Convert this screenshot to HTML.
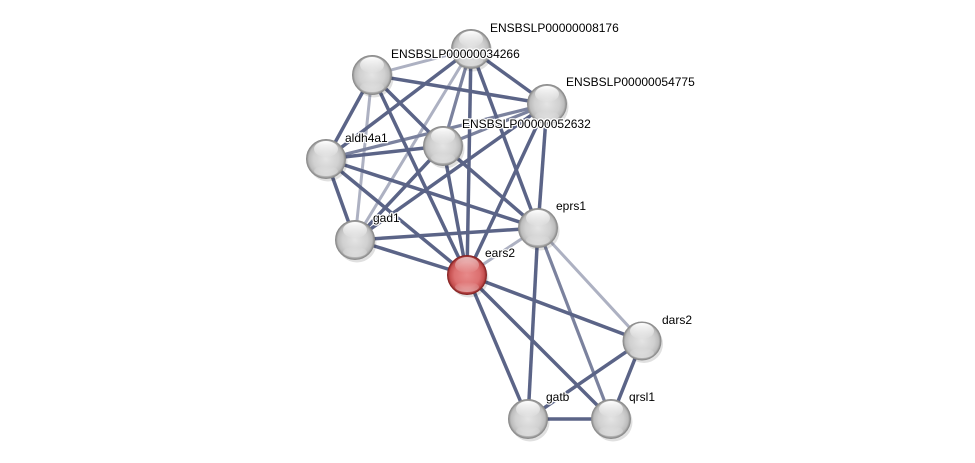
<!DOCTYPE html>
<html><head><meta charset="utf-8"><style>
html,body{margin:0;padding:0;background:#fff;}
svg{display:block;}
text{font-family:"Liberation Sans",Arial,sans-serif;font-size:12px;fill:#000;stroke:#fff;stroke-width:2.5px;paint-order:stroke;stroke-linejoin:round;}
</style></head><body>
<svg width="975" height="463" viewBox="0 0 975 463" xmlns="http://www.w3.org/2000/svg">
<defs>
<radialGradient id="g" cx="50%" cy="50%" r="50%">
<stop offset="0%" stop-color="#e4e4e4"/>
<stop offset="65%" stop-color="#d0d0d0"/>
<stop offset="88%" stop-color="#bcbcbc"/>
<stop offset="100%" stop-color="#8a8a8a"/>
</radialGradient>
<radialGradient id="r" cx="50%" cy="50%" r="50%">
<stop offset="0%" stop-color="#e88a8a"/>
<stop offset="65%" stop-color="#dc7070"/>
<stop offset="88%" stop-color="#c65050"/>
<stop offset="100%" stop-color="#8a2626"/>
</radialGradient>
<linearGradient id="hl" x1="0" y1="0" x2="0" y2="1">
<stop offset="0%" stop-color="#fff" stop-opacity="1"/>
<stop offset="100%" stop-color="#fff" stop-opacity="0"/>
</linearGradient>
<linearGradient id="bl" x1="0" y1="0" x2="0" y2="1">
<stop offset="0%" stop-color="#fff" stop-opacity="0"/>
<stop offset="100%" stop-color="#fff" stop-opacity="0.45"/>
</linearGradient>
</defs>
<g stroke-linecap="butt" fill="none">
<g stroke="#adb1c2" stroke-width="3">
<line x1="471" y1="49" x2="372" y2="75"/>
<line x1="471" y1="49" x2="355" y2="240"/>
<line x1="372" y1="75" x2="355" y2="240"/>
<line x1="538" y1="228" x2="467" y2="275"/>
<line x1="538" y1="228" x2="642" y2="341"/>
</g>
<g stroke="#7b829e" stroke-width="3.2">
<line x1="547" y1="104" x2="443" y2="146"/>
<line x1="547" y1="104" x2="326" y2="159"/>
<line x1="538" y1="228" x2="611" y2="418"/>
<line x1="471" y1="49" x2="443" y2="146"/>
</g>
<g stroke="#5b6487" stroke-width="3.5">
<line x1="471" y1="49" x2="547" y2="104"/>
<line x1="471" y1="49" x2="326" y2="159"/>
<line x1="471" y1="49" x2="538" y2="228"/>
<line x1="471" y1="49" x2="467" y2="275"/>
<line x1="372" y1="75" x2="547" y2="104"/>
<line x1="372" y1="75" x2="443" y2="146"/>
<line x1="372" y1="75" x2="326" y2="159"/>
<line x1="372" y1="75" x2="467" y2="275"/>
<line x1="547" y1="104" x2="355" y2="240"/>
<line x1="547" y1="104" x2="538" y2="228"/>
<line x1="547" y1="104" x2="467" y2="275"/>
<line x1="443" y1="146" x2="326" y2="159"/>
<line x1="443" y1="146" x2="355" y2="240"/>
<line x1="443" y1="146" x2="538" y2="228"/>
<line x1="443" y1="146" x2="467" y2="275"/>
<line x1="326" y1="159" x2="355" y2="240"/>
<line x1="326" y1="159" x2="538" y2="228"/>
<line x1="326" y1="159" x2="467" y2="275"/>
<line x1="355" y1="240" x2="538" y2="228"/>
<line x1="355" y1="240" x2="467" y2="275"/>
<line x1="538" y1="228" x2="528" y2="419"/>
<line x1="467" y1="275" x2="642" y2="341"/>
<line x1="467" y1="275" x2="528" y2="419"/>
<line x1="467" y1="275" x2="611" y2="419"/>
<line x1="642" y1="341" x2="528" y2="419"/>
<line x1="642" y1="341" x2="611" y2="419"/>
<line x1="528" y1="419" x2="611" y2="419"/>
</g>
</g>
<g>
<circle cx="473" cy="52" r="19.5" fill="#000" opacity="0.12"/>
<circle cx="471" cy="49" r="19.5" fill="url(#g)" stroke="#8c8c8c" stroke-width="1"/>
<ellipse cx="471" cy="39" rx="12" ry="8" fill="url(#hl)"/>
<ellipse cx="471" cy="61" rx="12" ry="5" fill="url(#bl)"/>

<circle cx="374" cy="78" r="19.5" fill="#000" opacity="0.12"/>
<circle cx="372" cy="75" r="19.5" fill="url(#g)" stroke="#8c8c8c" stroke-width="1"/>
<ellipse cx="372" cy="65" rx="12" ry="8" fill="url(#hl)"/>
<ellipse cx="372" cy="87" rx="12" ry="5" fill="url(#bl)"/>

<circle cx="549" cy="107" r="19.5" fill="#000" opacity="0.12"/>
<circle cx="547" cy="104" r="19.5" fill="url(#g)" stroke="#8c8c8c" stroke-width="1"/>
<ellipse cx="547" cy="94" rx="12" ry="8" fill="url(#hl)"/>
<ellipse cx="547" cy="116" rx="12" ry="5" fill="url(#bl)"/>

<circle cx="445" cy="149" r="19.5" fill="#000" opacity="0.12"/>
<circle cx="443" cy="146" r="19.5" fill="url(#g)" stroke="#8c8c8c" stroke-width="1"/>
<ellipse cx="443" cy="136" rx="12" ry="8" fill="url(#hl)"/>
<ellipse cx="443" cy="158" rx="12" ry="5" fill="url(#bl)"/>

<circle cx="328" cy="162" r="19.5" fill="#000" opacity="0.12"/>
<circle cx="326" cy="159" r="19.5" fill="url(#g)" stroke="#8c8c8c" stroke-width="1"/>
<ellipse cx="326" cy="149" rx="12" ry="8" fill="url(#hl)"/>
<ellipse cx="326" cy="171" rx="12" ry="5" fill="url(#bl)"/>

<circle cx="357" cy="243" r="19.5" fill="#000" opacity="0.12"/>
<circle cx="355" cy="240" r="19.5" fill="url(#g)" stroke="#8c8c8c" stroke-width="1"/>
<ellipse cx="355" cy="230" rx="12" ry="8" fill="url(#hl)"/>
<ellipse cx="355" cy="252" rx="12" ry="5" fill="url(#bl)"/>

<circle cx="540" cy="231" r="19.5" fill="#000" opacity="0.12"/>
<circle cx="538" cy="228" r="19.5" fill="url(#g)" stroke="#8c8c8c" stroke-width="1"/>
<ellipse cx="538" cy="218" rx="12" ry="8" fill="url(#hl)"/>
<ellipse cx="538" cy="240" rx="12" ry="5" fill="url(#bl)"/>

<circle cx="469" cy="278" r="19.5" fill="#000" opacity="0.12"/>
<circle cx="467" cy="275" r="19.5" fill="url(#r)" stroke="#872424" stroke-width="1"/>
<ellipse cx="467" cy="265" rx="12" ry="8" fill="url(#hl)" opacity="0.6"/>
<ellipse cx="467" cy="287" rx="12" ry="5" fill="url(#bl)"/>

<circle cx="644" cy="344" r="19" fill="#000" opacity="0.12"/>
<circle cx="642" cy="341" r="19" fill="url(#g)" stroke="#8c8c8c" stroke-width="1"/>
<ellipse cx="642" cy="331" rx="12" ry="8" fill="url(#hl)"/>
<ellipse cx="642" cy="353" rx="12" ry="5" fill="url(#bl)"/>

<circle cx="530" cy="422" r="19.5" fill="#000" opacity="0.12"/>
<circle cx="528" cy="419" r="19.5" fill="url(#g)" stroke="#8c8c8c" stroke-width="1"/>
<ellipse cx="528" cy="409" rx="12" ry="8" fill="url(#hl)"/>
<ellipse cx="528" cy="431" rx="12" ry="5" fill="url(#bl)"/>

<circle cx="613" cy="422" r="19.5" fill="#000" opacity="0.12"/>
<circle cx="611" cy="419" r="19.5" fill="url(#g)" stroke="#8c8c8c" stroke-width="1"/>
<ellipse cx="611" cy="409" rx="12" ry="8" fill="url(#hl)"/>
<ellipse cx="611" cy="431" rx="12" ry="5" fill="url(#bl)"/>
</g>
<g>
<text x="490" y="32">ENSBSLP00000008176</text>
<text x="391" y="58">ENSBSLP00000034266</text>
<text x="566" y="86">ENSBSLP00000054775</text>
<text x="462" y="128">ENSBSLP00000052632</text>
<text x="345" y="142">aldh4a1</text>
<text x="373" y="222">gad1</text>
<text x="556" y="210">eprs1</text>
<text x="485" y="257">ears2</text>
<text x="662" y="324">dars2</text>
<text x="546" y="401">gatb</text>
<text x="629" y="401">qrsl1</text>
</g>
</svg>
</body></html>
